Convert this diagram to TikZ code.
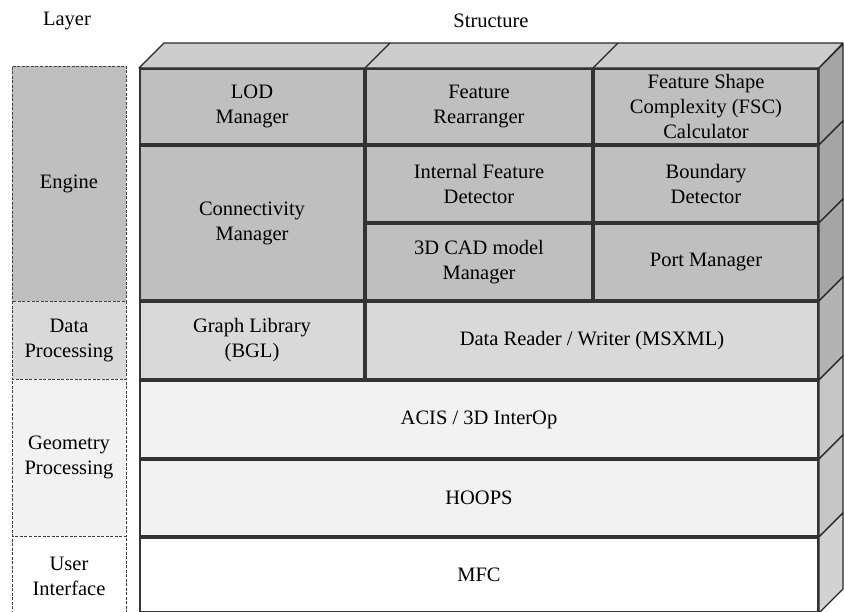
\documentclass[tikz,border=0pt]{standalone}
\usepackage{fontspec}
\setmainfont{Liberation Serif}
\begin{document}
\begin{tikzpicture}[x=1pt,y=-1pt,
  blk/.style={draw=black!80, line width=1.2pt, rectangle, align=center, inner sep=0pt,
    font=\fontsize{20.5}{25}\selectfont},
  lay/.style={draw=black!75, line width=0.8pt, dash pattern=on 3pt off 1.5pt, rectangle, align=center, inner sep=0pt,
    font=\fontsize{20.5}{25}\selectfont},
  face/.style={draw=black!85, line width=1.2pt, line join=round},
  hdr/.style={font=\fontsize{20.5}{25}\selectfont, inner sep=0pt}
]
\definecolor{engc}{HTML}{BFBFBF}
\definecolor{dpc}{HTML}{D9D9D9}
\definecolor{gpc}{HTML}{F2F2F2}
\definecolor{topc}{HTML}{CDCDCD}
\definecolor{sengc}{HTML}{A5A5A5}
\definecolor{sdpc}{HTML}{B3B3B3}
\definecolor{sgpc}{HTML}{C6C6C6}
\definecolor{suic}{HTML}{D2D2D2}
\useasboundingbox (0,0) rectangle (844,611);
% headers
\node[hdr] (hlayer) at (67,21) {Layer};
\node[hdr] (hstruct) at (491,21) {Structure};
% left layer column
\node[lay, fill=engc, minimum width=114, minimum height=235] (leng) at (69,183.5) {Engine};
\node[lay, fill=dpc, minimum width=114, minimum height=78] (ldp) at (69,340) {Data\\Processing};
\node[lay, fill=gpc, minimum width=114, minimum height=157] (lgp) at (69,457.5) {Geometry\\Processing};
\node[lay, fill=white, minimum width=114, minimum height=80] (lui) at (69,576) {User\\Interface};
% top face
\filldraw[face, fill=topc] (139,68) -- (164,43) -- (843,43) -- (819,68) -- cycle;
\draw[face] (365,68) -- (390,43);
\draw[face] (593,68) -- (618,43);
% side faces
\foreach \ya/\yb/\c in {68/145/sengc,145/223/sengc,223/301/sengc,301/380/sdpc,380/459/sgpc,459/537/sgpc,537/613/suic}{
  \filldraw[face, fill=\c] (819,\ya) -- (843,\ya-24) -- (843,\yb-24) -- (819,\yb) -- cycle;
}
% front blocks
\node[blk, fill=engc, minimum width=224, minimum height=75] (lod) at (252,106.5) {LOD\\Manager};
\node[blk, fill=engc, minimum width=226, minimum height=75] (fr) at (479,106.5) {Feature\\Rearranger};
\node[blk, fill=engc, minimum width=224, minimum height=75] (fsc) at (706,106.5) {Feature Shape\\Complexity (FSC)\\Calculator};
\node[blk, fill=engc, minimum width=224, minimum height=154] (conn) at (252,223) {Connectivity\\Manager};
\node[blk, fill=engc, minimum width=226, minimum height=76] (ifd) at (479,184) {Internal Feature\\Detector};
\node[blk, fill=engc, minimum width=224, minimum height=76] (bd) at (706,184) {Boundary\\Detector};
\node[blk, fill=engc, minimum width=226, minimum height=76] (cad) at (479,262) {3D CAD model\\Manager};
\node[blk, fill=engc, minimum width=224, minimum height=76] (port) at (706,262) {Port Manager};
\node[blk, fill=dpc, minimum width=224, minimum height=77] (gl) at (252,340.5) {Graph Library\\(BGL)};
\node[blk, fill=dpc, minimum width=452, minimum height=77] (drw) at (592,340.5) {Data Reader / Writer (MSXML)};
\node[blk, fill=gpc, minimum width=678, minimum height=77] (acis) at (479,419.5) {ACIS / 3D InterOp};
\node[blk, fill=gpc, minimum width=678, minimum height=76] (hoops) at (479,498) {HOOPS};
\node[blk, fill=white, minimum width=678, minimum height=74] (mfc) at (479,575) {MFC};
\end{tikzpicture}
\end{document}
